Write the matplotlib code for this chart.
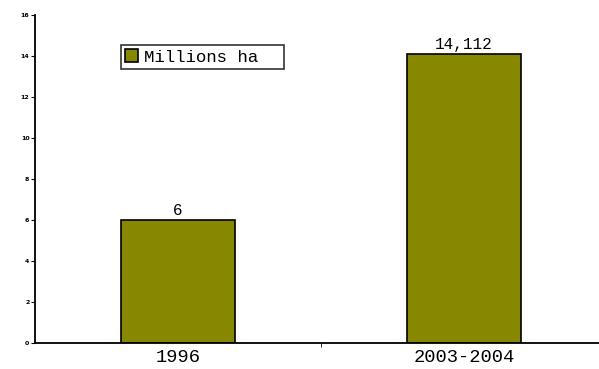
import numpy as np
import matplotlib.pyplot as plt

categories = ['1996', '2003-2004']
values = [6, 14.112]
value_labels = ['6', '14,112']
series_name = 'Millions ha'
yticks = [0, 2, 4, 6, 8, 10, 12, 14, 16]

fig = plt.figure(figsize=(5.99, 3.69), dpi=100)
ax = fig.add_axes([35 / 599, 26 / 369, 1 - 35 / 599, 328 / 369])

x = np.arange(len(categories))
bars = ax.bar(x, values, width=0.4, color='#878700', edgecolor='black',
              linewidth=1.2, label=series_name + '  ')

for b, lab in zip(bars, value_labels):
    ax.text(b.get_x() + b.get_width() / 2, b.get_height() + 0.1, lab,
            ha='center', va='bottom', family='Liberation Mono', fontsize=11.5)

ax.set_xlim(-0.5, 1.472)
ax.set_ylim(0, 16)
ax.set_yticks(yticks)
ax.set_yticklabels([str(t) for t in yticks], fontsize=4.5, family='DejaVu Sans',
                   fontweight='bold')
ax.set_xticks(x)
ax.set_xticklabels(categories, family='Liberation Mono', fontsize=13.5)
ax.set_xticks([0.5], minor=True)
ax.tick_params(axis='x', which='major', length=0, pad=4)
ax.tick_params(axis='x', which='minor', length=3, direction='out')
ax.tick_params(axis='y', length=3, direction='out', pad=1)

for side in ['top', 'right']:
    ax.spines[side].set_visible(False)
ax.spines['left'].set_linewidth(1.3)
ax.spines['bottom'].set_linewidth(1.3)

leg = ax.legend(loc='upper left', bbox_to_anchor=(86 / 564, 1 - 30 / 328),
                prop={'family': 'Liberation Mono', 'size': 12.5},
                frameon=True, fancybox=False, borderpad=0.25,
                handlelength=0.75, handleheight=0.75, handletextpad=0.35,
                borderaxespad=0)
leg.get_frame().set_edgecolor('black')
leg.get_frame().set_linewidth(1.2)

fig.savefig('out.png', dpi=100)
